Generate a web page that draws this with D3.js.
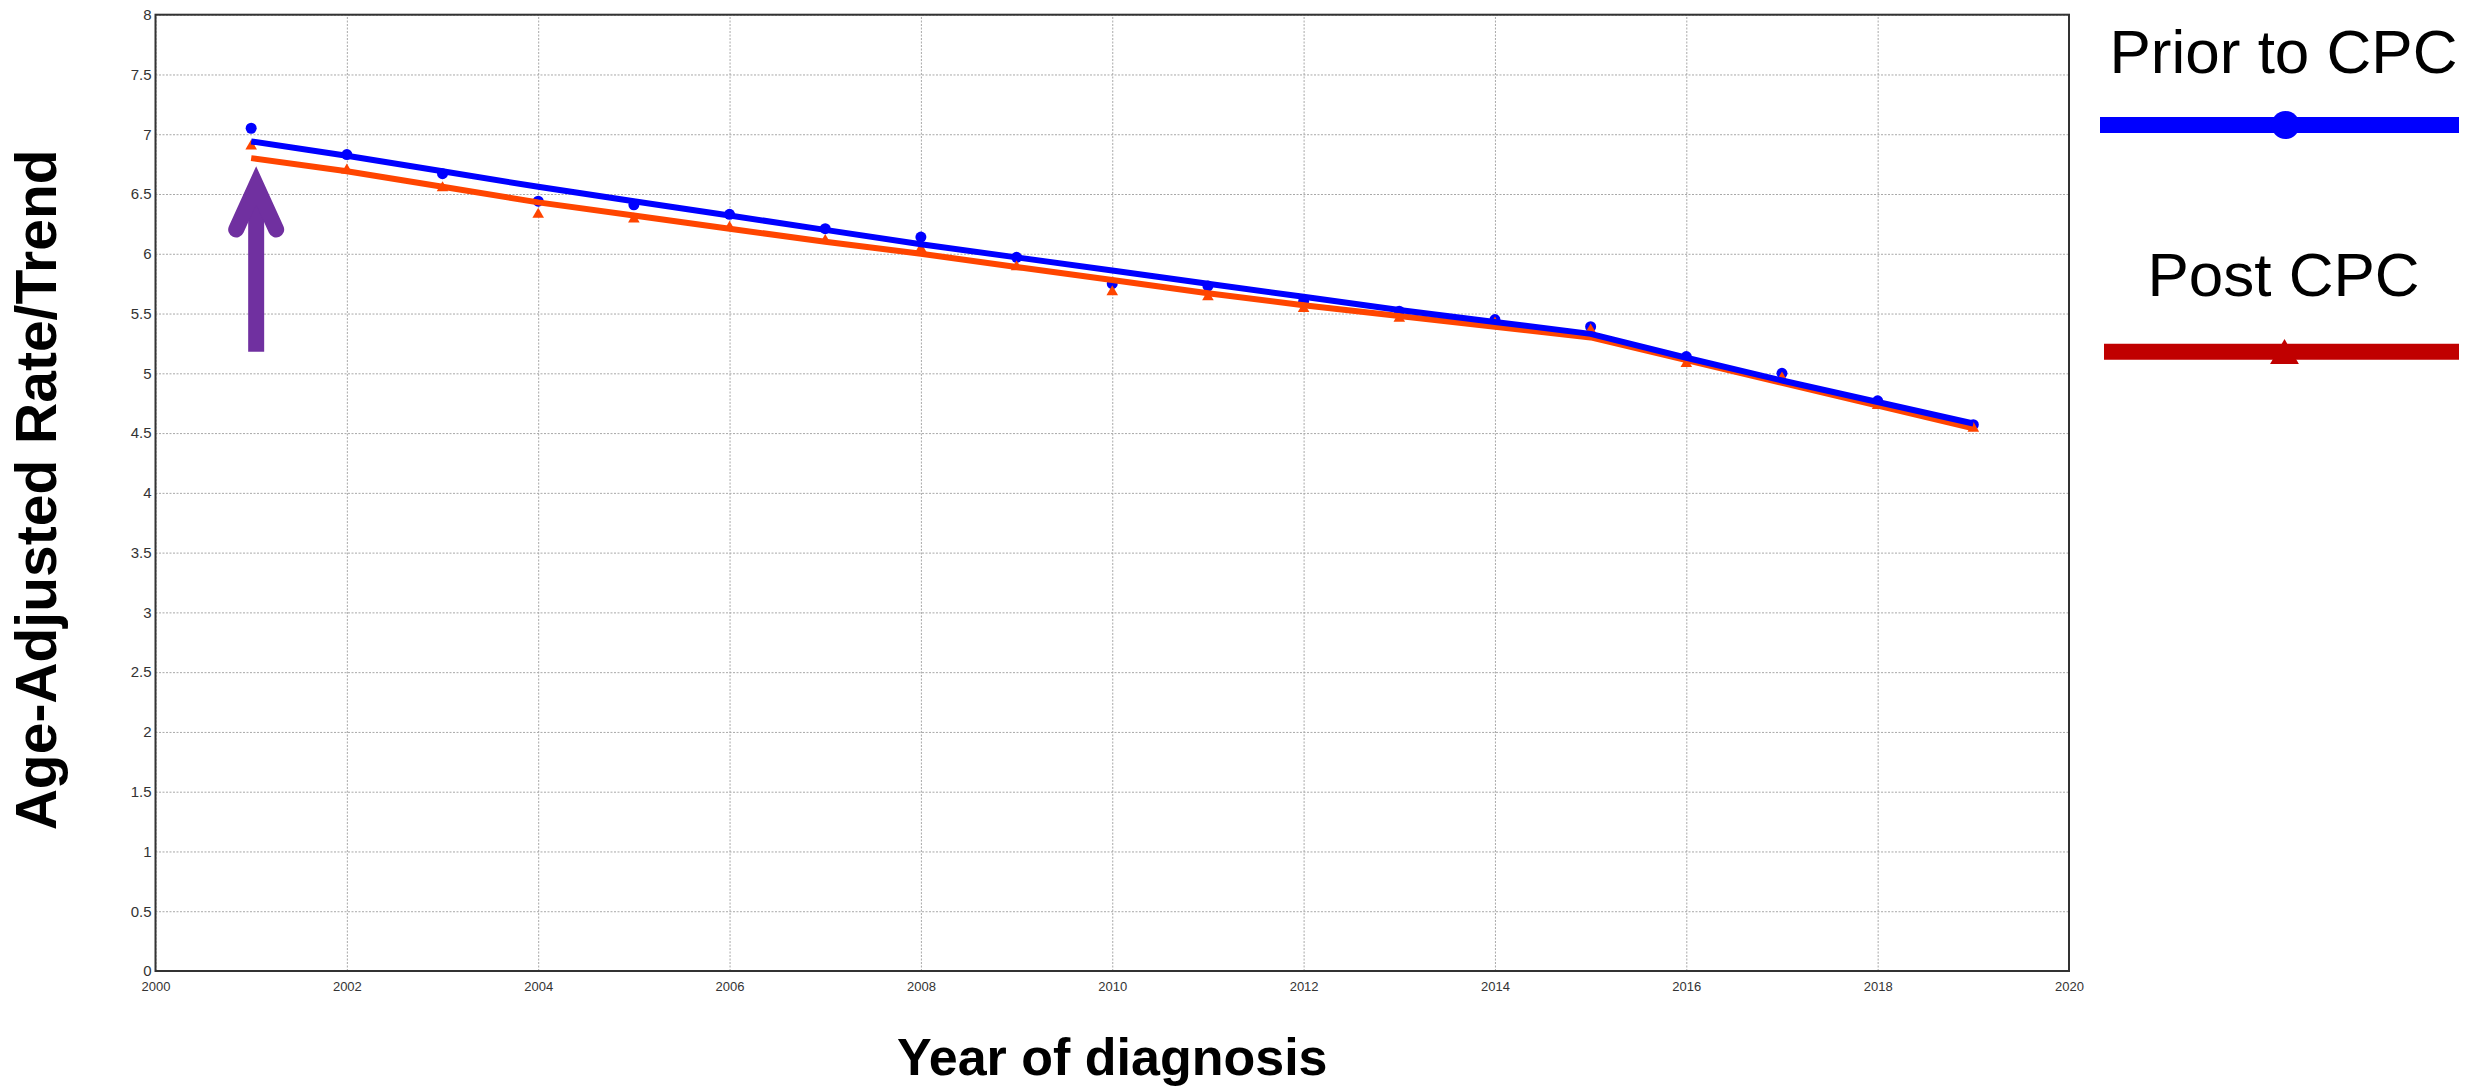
<!DOCTYPE html>
<html>
<head>
<meta charset="utf-8">
<script src="https://cdn.jsdelivr.net/npm/d3@7"></script>
<style>
  body { margin: 0; background: #fff; }
  svg { display: block; }
  .tick text { fill: #333; font-family: "Liberation Sans", Arial, sans-serif; }
  .grid line { stroke: #a8a8a8; stroke-dasharray: 2,1.5; }
  .grid path { display: none; }
</style>
</head>
<body>
<div id="chart"></div>
<script>
var svgWidth = 2481;
var svgHeight = 1091;

// observed rates per year of diagnosis
var years = [2001, 2002, 2003, 2004, 2005, 2006, 2007, 2008, 2009, 2010,
             2011, 2012, 2013, 2014, 2015, 2016, 2017, 2018, 2019];
var priorRates = [7.05, 6.83, 6.67, 6.44, 6.41, 6.33, 6.21, 6.14, 5.97, 5.75,
                  5.73, 5.60, 5.52, 5.45, 5.39, 5.14, 5.00, 4.77, 4.57];
var postRates = [6.90, 6.70, 6.55, 6.33, 6.29, 6.22, 6.11, 6.04, 5.89, 5.68,
                 5.64, 5.54, 5.46, 5.42, 5.36, 5.08, 4.96, 4.73, 4.54];

// modelled trend
var priorTrend = [6.94, 6.82, 6.69, 6.56, 6.44, 6.32, 6.20, 6.08, 5.97, 5.86,
                  5.75, 5.64, 5.53, 5.43, 5.33, 5.13, 4.94, 4.76, 4.58];
var postTrend = [6.80, 6.69, 6.56, 6.43, 6.32, 6.21, 6.10, 6.00, 5.89, 5.78,
                 5.67, 5.57, 5.48, 5.39, 5.30, 5.11, 4.92, 4.73, 4.54];

var xTicks = [2000, 2002, 2004, 2006, 2008, 2010, 2012, 2014, 2016, 2018, 2020];
var yTicks = [0, 0.5, 1, 1.5, 2, 2.5, 3, 3.5, 4, 4.5, 5, 5.5, 6, 6.5, 7, 7.5, 8];

var seriesNames = ["Prior to CPC", "Post CPC"];

// arrow annotation pointing at the first year
var arrowYear = 2001;
var arrowFrom = 5.18;
var arrowTo = 6.73;

var margin = { top: 14.7, right: 412, bottom: 120, left: 155.5 };
var chartWidth = svgWidth - margin.left - margin.right;
var chartHeight = svgHeight - margin.top - margin.bottom;

var svg = d3.select("#chart")
    .append("svg")
    .attr("width", svgWidth)
    .attr("height", svgHeight);

var chartGroup = svg.append("g")
    .attr("transform", `translate(${margin.left}, ${margin.top})`);

var xScale = d3.scaleLinear().domain([2000, 2020]).range([0, chartWidth]);
var yScale = d3.scaleLinear().domain([0, 8]).range([chartHeight, 0]);

// grid
chartGroup.append("g")
    .attr("class", "grid")
    .call(d3.axisLeft(yScale).tickValues(yTicks).tickSize(-chartWidth).tickFormat(""));

chartGroup.append("g")
    .attr("class", "grid")
    .attr("transform", `translate(0, ${chartHeight})`)
    .call(d3.axisBottom(xScale).tickValues(xTicks).tickSize(-chartHeight).tickFormat(""));

// tick labels
var leftAxis = chartGroup.append("g")
    .call(d3.axisLeft(yScale).tickValues(yTicks).tickSize(0).tickPadding(4).tickFormat(d3.format("")));
leftAxis.select(".domain").remove();
leftAxis.selectAll("text").style("font-size", "15px");

var bottomAxis = chartGroup.append("g")
    .attr("transform", `translate(0, ${chartHeight})`)
    .call(d3.axisBottom(xScale).tickValues(xTicks).tickSize(0).tickPadding(11).tickFormat(d3.format("d")));
bottomAxis.select(".domain").remove();
bottomAxis.selectAll("text").style("font-size", "13px");

// frame
chartGroup.append("rect")
    .attr("width", chartWidth)
    .attr("height", chartHeight)
    .attr("fill", "none")
    .attr("stroke", "#333")
    .attr("stroke-width", 2);

// markers
chartGroup.append("g")
    .selectAll("circle")
    .data(years)
    .enter()
    .append("circle")
    .attr("cx", (d, i) => xScale(d))
    .attr("cy", (d, i) => yScale(priorRates[i]))
    .attr("r", 5.5)
    .attr("fill", "#0000ff");

var triangle = d3.symbol().type(d3.symbolTriangle).size(58);
chartGroup.append("g")
    .selectAll("path")
    .data(years)
    .enter()
    .append("path")
    .attr("d", triangle)
    .attr("transform", (d, i) => `translate(${xScale(d)}, ${yScale(postRates[i])})`)
    .attr("fill", "#ff4500");

// trend lines
var postLine = d3.line()
    .x((d, i) => xScale(d))
    .y((d, i) => yScale(postTrend[i]));
var priorLine = d3.line()
    .x((d, i) => xScale(d))
    .y((d, i) => yScale(priorTrend[i]));

chartGroup.append("path")
    .datum(years)
    .attr("d", postLine)
    .attr("fill", "none")
    .attr("stroke", "#ff4500")
    .attr("stroke-width", 6)
    .attr("stroke-linejoin", "round");

chartGroup.append("path")
    .datum(years)
    .attr("d", priorLine)
    .attr("fill", "none")
    .attr("stroke", "#0000ff")
    .attr("stroke-width", 6)
    .attr("stroke-linejoin", "round");

// purple arrow
var ax = xScale(arrowYear) + 5;
var tipY = yScale(arrowTo);
chartGroup.append("line")
    .attr("x1", ax).attr("x2", ax)
    .attr("y1", yScale(arrowFrom)).attr("y2", tipY + 24)
    .attr("stroke", "#7030a0")
    .attr("stroke-width", 16);
chartGroup.append("path")
    .attr("d", `M${ax - 20},${tipY + 63} L${ax},${tipY + 19} L${ax + 20},${tipY + 63}`)
    .attr("fill", "none")
    .attr("stroke", "#7030a0")
    .attr("stroke-width", 16)
    .attr("stroke-linecap", "round")
    .attr("stroke-linejoin", "miter")
    .attr("stroke-miterlimit", 10);

// axis titles
svg.append("text")
    .attr("transform", `translate(56, ${margin.top + chartHeight / 2 - 3}) rotate(-90)`)
    .attr("text-anchor", "middle")
    .style("font-family", "'Liberation Sans', Arial, sans-serif")
    .style("font-weight", "bold")
    .style("font-size", "57px")
    .text("Age-Adjusted Rate/Trend");

svg.append("text")
    .attr("x", margin.left + chartWidth / 2)
    .attr("y", 1075)
    .attr("text-anchor", "middle")
    .style("font-family", "'Liberation Sans', Arial, sans-serif")
    .style("font-weight", "bold")
    .style("font-size", "52px")
    .text("Year of diagnosis");

// legend
var legendX = 2100;
var legendW = 359;
var legendColors = ["#0000ff", "#c00000"];
var legendRows = [
    { text: 72.7, line: 125 },
    { text: 296, line: 351.7 }
];

seriesNames.forEach((name, i) => {
    var row = legendRows[i];
    svg.append("text")
        .attr("x", legendX + legendW / 2 + 4)
        .attr("y", row.text)
        .attr("text-anchor", "middle")
        .style("font-family", "'Liberation Sans', Arial, sans-serif")
        .style("font-size", "62px")
        .text(name);
    svg.append("line")
        .attr("x1", legendX + (i == 0 ? 0 : 4)).attr("x2", legendX + legendW)
        .attr("y1", row.line).attr("y2", row.line)
        .attr("stroke", legendColors[i])
        .attr("stroke-width", 16);
    if (i == 0) {
        svg.append("circle")
            .attr("cx", legendX + legendW / 2 + 6)
            .attr("cy", row.line)
            .attr("r", 14)
            .attr("fill", legendColors[i]);
    } else {
        svg.append("path")
            .attr("d", d3.symbol().type(d3.symbolTriangle).size(360))
            .attr("transform", `translate(${legendX + legendW / 2 + 5}, ${row.line + 4})`)
            .attr("fill", legendColors[i]);
    }
});
</script>
</body>
</html>
